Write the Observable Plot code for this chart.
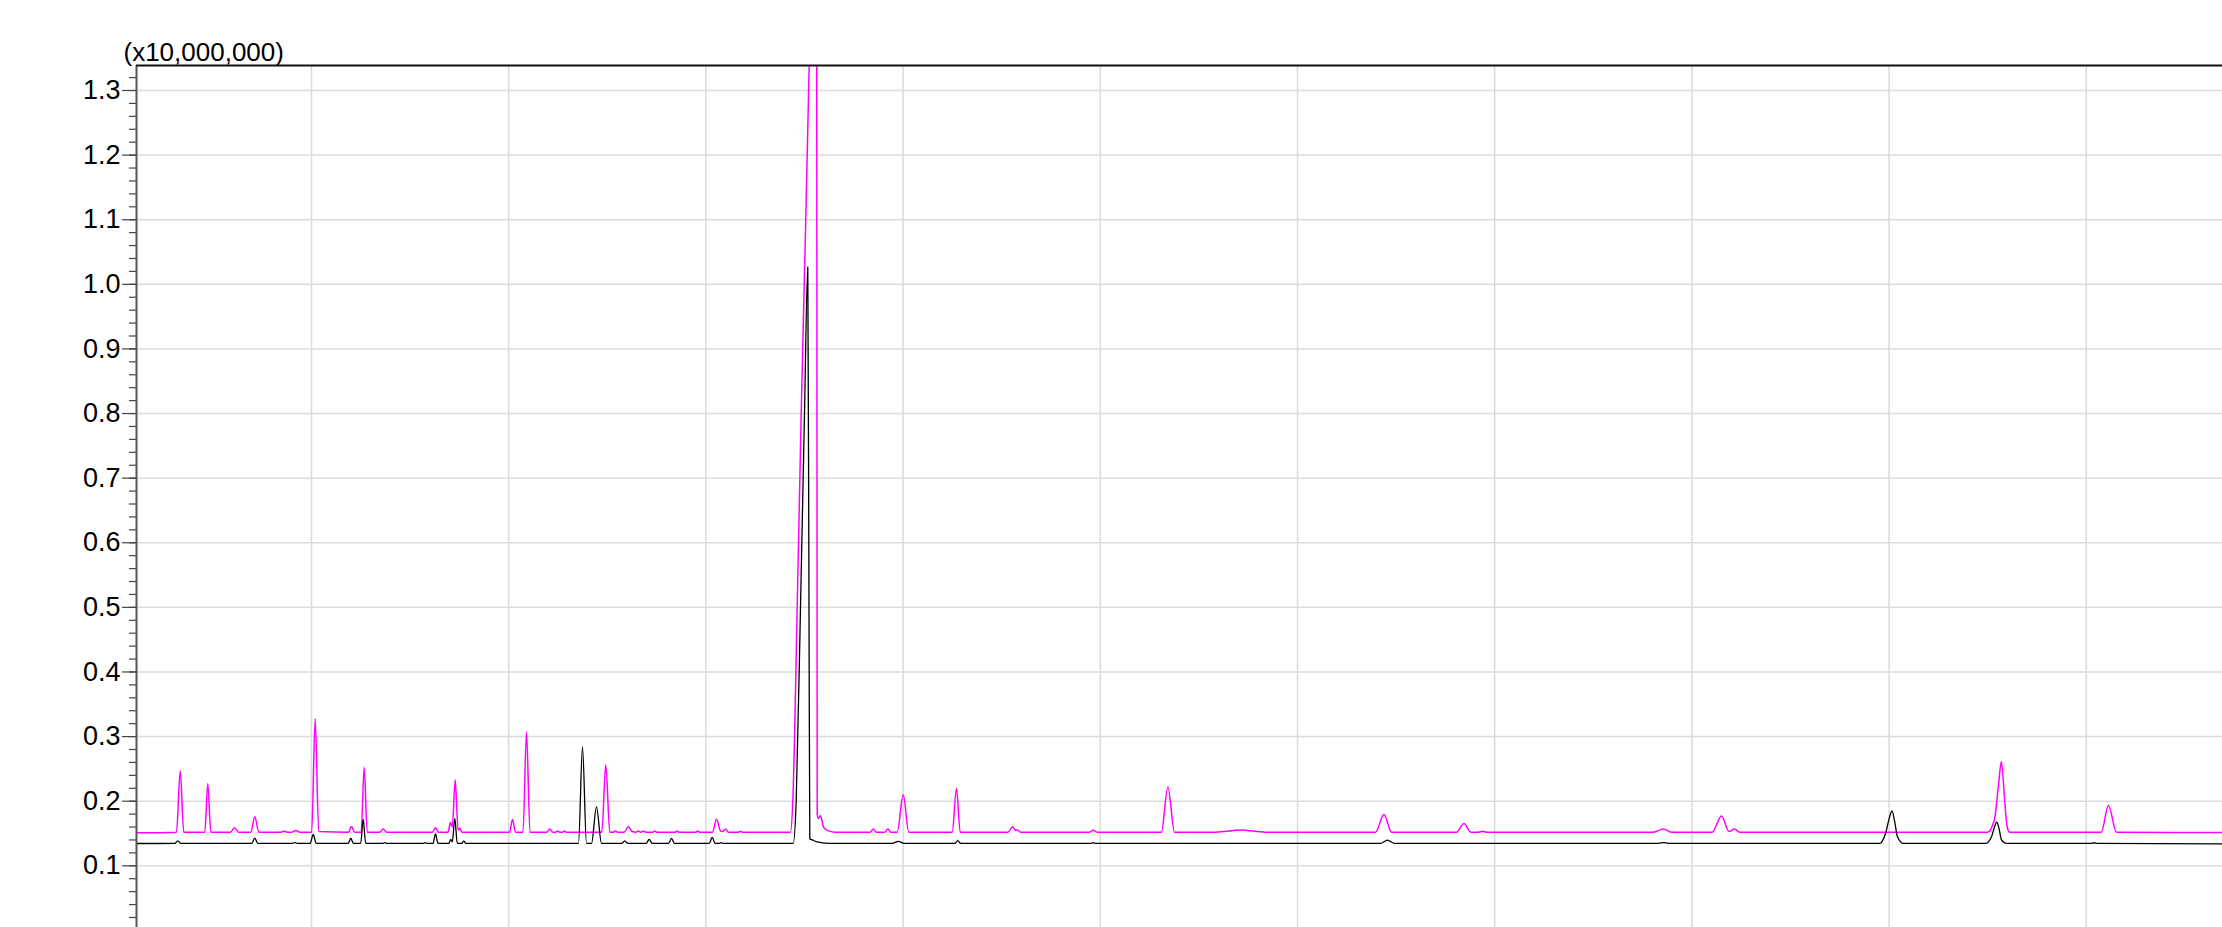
<!DOCTYPE html>
<html>
<head>
<meta charset="utf-8">
<script src="https://cdn.jsdelivr.net/npm/d3@7"></script>
<script src="https://cdn.jsdelivr.net/npm/@observablehq/plot@0.6"></script>
<style>
  html, body { margin: 0; padding: 0; background: #ffffff; }
  svg { display: block; }
</style>
</head>
<body>
<div id="chart"></div>
<script>
// Retention time (min) and intensity (x10,000,000) — magenta trace
const magentaTime = [1.1126, 1.3154,1.3342,1.3524, 1.4589,1.4741,1.4894, 1.5892,1.6095,1.6298, 1.6922,1.7125,1.7328, 1.8463,1.8616,1.8768, 1.9001,1.9204,1.9407, 2.0010,2.0188,2.0365, 2.1876,2.2028,2.2181, 2.2520,2.2672,2.2825, 2.3458,2.3636,2.3813, 2.6136,2.6288,2.6440, 2.6922,2.7049,2.7140,2.7287,2.7434,2.7520,2.7632, 3.0041,3.0193,3.0345, 3.0725,3.0903,3.1080, 3.1932,3.2084,3.2236, 3.2373,3.2475,3.2576, 3.2728,3.2830,3.2931, 3.4721,3.4924,3.5127, 3.5314,3.5416,3.5517, 3.5857,3.6060,3.6263, 3.6466,3.6567,3.6684,3.6836,3.6937, 3.7307,3.7409,3.7510, 3.8443,3.8545,3.8646, 3.9488,3.9589,3.9691, 4.0335,4.0538,4.0740,4.0842,4.0994,4.1146, 4.1653,4.1755,4.1856, 4.4290,4.4407,4.4630,4.4833,4.5051,4.5238,4.5406,4.5619,4.5644,4.5710,4.5811,4.5964,4.6217,4.6572, 4.8332,4.8484,4.8636, 4.9072,4.9224,4.9376, 4.9701,5.0005,5.0289, 5.2490,5.2708,5.2896, 5.5320,5.5548,5.5700,5.5801,5.5953, 5.9437,5.9640,5.9843, 6.3093,6.3428,6.3763, 6.5842,6.7110,6.8377, 7.3955,7.4387,7.4767, 7.8063,7.8443,7.8798, 7.9179,7.9381,7.9584, 8.8053,8.8550,8.8966, 9.1024,9.1501,9.1881,9.2160,9.2414, 10.4990,10.5345,10.5548,10.5695,10.5852,10.5979,10.6106, 11.0761,11.1121,11.1532, 11.6907];
const magentaSignal = [0.151, 0.152,0.247,0.152, 0.152,0.2275,0.152, 0.152,0.159,0.152, 0.152,0.176,0.152, 0.152,0.1537,0.152, 0.152,0.1547,0.152, 0.152,0.328,0.153, 0.152,0.161,0.152, 0.152,0.2527,0.152, 0.152,0.157,0.152, 0.152,0.159,0.152, 0.152,0.167,0.160,0.2331,0.155,0.158,0.152, 0.152,0.1717,0.152, 0.152,0.3074,0.152, 0.152,0.157,0.152, 0.152,0.154,0.152, 0.152,0.154,0.152, 0.152,0.2563,0.152, 0.152,0.154,0.152, 0.152,0.1604,0.153, 0.152,0.154,0.152,0.154,0.152, 0.152,0.154,0.152, 0.152,0.154,0.152, 0.152,0.154,0.152, 0.152,0.1722,0.154,0.153,0.157,0.152, 0.152,0.1535,0.152, 0.152,0.2,0.5,0.8,1.083,1.339,1.6,1.45,0.18,0.173,0.178,0.160,0.154,0.152, 0.152,0.1568,0.152, 0.152,0.1568,0.152, 0.152,0.210,0.152, 0.152,0.2197,0.152, 0.152,0.1604,0.155,0.1555,0.152, 0.152,0.155,0.152, 0.152,0.222,0.152, 0.152,0.1555,0.152, 0.152,0.1795,0.152, 0.152,0.1655,0.152, 0.152,0.1533,0.152, 0.152,0.1568,0.152, 0.152,0.1769,0.153,0.1568,0.152, 0.152,0.172,0.225,0.2615,0.205,0.162,0.152, 0.152,0.1934,0.152, 0.1515];

// Black trace
const blackTime = [1.1126, 1.3068,1.3220,1.3372, 1.6973,1.7125,1.7277, 1.9001,1.9153,1.9305, 1.9934,2.0086,2.0238, 2.1866,2.1993,2.2120, 2.2495,2.2622,2.2748, 2.3616,2.3717,2.3818, 2.5664,2.5766,2.5867, 2.6161,2.6288,2.6415, 2.6962,2.7064,2.7140,2.7267,2.7394, 2.7622,2.7723,2.7825, 3.3540,3.3742,3.3945, 3.4199,3.4452,3.4706, 3.5735,3.5887,3.6040, 3.6973,3.7125,3.7277, 3.8103,3.8256,3.8408, 4.0167,4.0320,4.0472, 4.0674,4.0776,4.0877, 4.4427,4.4579,4.4797,4.5000,4.5167,4.5228,4.5269,4.5406,4.5644,4.6318, 4.9447,4.9752,5.0056, 5.2622,5.2774,5.2926, 5.9488,5.9640,5.9792, 7.4209,7.4564,7.4919, 8.8296,8.8550,8.8803, 9.9513,9.9818,10.0020,10.0147,10.0274,10.0426,10.0730, 10.4889,10.5193,10.5345,10.5457,10.5573,10.5700,10.5953, 11.0254,11.0406,11.0558, 11.6907];
const blackSignal = [0.1345, 0.1346,0.1387,0.1346, 0.1346,0.1428,0.1346, 0.1346,0.136,0.1346, 0.1346,0.1485,0.1346, 0.1346,0.1428,0.1346, 0.1346,0.1722,0.1346, 0.1346,0.136,0.1346, 0.1346,0.136,0.1346, 0.1346,0.1495,0.1346, 0.1346,0.141,0.137,0.1733,0.1346, 0.1346,0.1387,0.1346, 0.1346,0.2842,0.1346, 0.1346,0.1913,0.1346, 0.1346,0.1387,0.1346, 0.1346,0.141,0.1346, 0.1346,0.1423,0.1346, 0.1346,0.1439,0.1346, 0.1346,0.136,0.1346, 0.1346,0.2,0.5,0.8,1.027,0.5,0.142,0.140,0.137,0.1346, 0.1346,0.1377,0.1346, 0.1346,0.139,0.1346, 0.1346,0.1355,0.1346, 0.1346,0.1397,0.1346, 0.1346,0.136,0.1346, 0.1346,0.15,0.175,0.1851,0.17,0.145,0.1346, 0.1346,0.145,0.16,0.1676,0.158,0.14,0.1346, 0.1346,0.1357,0.1346, 0.134];

// Axes
const yMajorTicks = [0.1, 0.2, 0.3, 0.4, 0.5, 0.6, 0.7, 0.8, 0.9, 1.0, 1.1, 1.2, 1.3];
const yTickLabels = ["0.1","0.2","0.3","0.4","0.5","0.6","0.7","0.8","0.9","1.0","1.1","1.2","1.3"];
const yMinorStep = 0.02;
const xGridTimes = [2, 3, 4, 5, 6, 7, 8, 9, 10, 11];
const xDomain = [1.1126, 11.6907];
const yDomain = [0.0045, 1.3387];
const unitLabel = "(x10,000,000)";

const magenta = magentaTime.map((t, i) => ({t, v: magentaSignal[i]}));
const black = blackTime.map((t, i) => ({t, v: blackSignal[i]}));
const yMinorTicks = d3.range(1, 67).map(k => +(k * yMinorStep).toFixed(2));
const labelOf = new Map(yMajorTicks.map((d, i) => [d, yTickLabels[i]]));

const font = "'Liberation Sans', Arial, Helvetica, sans-serif";

const chart = Plot.plot({
  width: 2222,
  height: 927,
  marginLeft: 136,
  marginTop: 65,
  marginRight: 0,
  marginBottom: 0,
  style: {fontFamily: font, fontSize: "27px", background: "#ffffff", color: "#000"},
  x: {domain: xDomain, axis: null},
  y: {domain: yDomain, axis: null},
  marks: [
    Plot.gridX(xGridTimes, {stroke: "#dadada", strokeOpacity: 1, strokeWidth: 1.5}),
    Plot.gridY(yMajorTicks, {stroke: "#dcdcdc", strokeOpacity: 1, strokeWidth: 1.5}),
    Plot.axisY(yMinorTicks, {anchor: "left", tickSize: 7, text: null, stroke: "#444", strokeWidth: 1.2, label: null}),
    Plot.axisY(yMajorTicks, {anchor: "left", tickSize: 14, tickPadding: 2, stroke: "#444", strokeWidth: 1.2, fill: "#000",
      fontSize: 27, label: null, tickFormat: d => labelOf.get(d)}),
    Plot.line(magenta, {x: "t", y: "v", stroke: "#ff00ff", strokeWidth: 1.5, curve: "monotone-x", clip: true}),
    Plot.line(black, {x: "t", y: "v", stroke: "#000000", strokeWidth: 1.3, curve: "monotone-x", clip: true}),
    Plot.ruleX([xDomain[0]], {stroke: "#555", strokeWidth: 2}),
    Plot.ruleY([yDomain[1]], {stroke: "#111", strokeWidth: 2}),
    Plot.text([unitLabel], {frameAnchor: "top-left", dx: -13, dy: -5, textAnchor: "start", lineAnchor: "bottom", fontSize: 26, fill: "#000"})
  ]
});

document.getElementById("chart").appendChild(chart);
</script>
</body>
</html>
